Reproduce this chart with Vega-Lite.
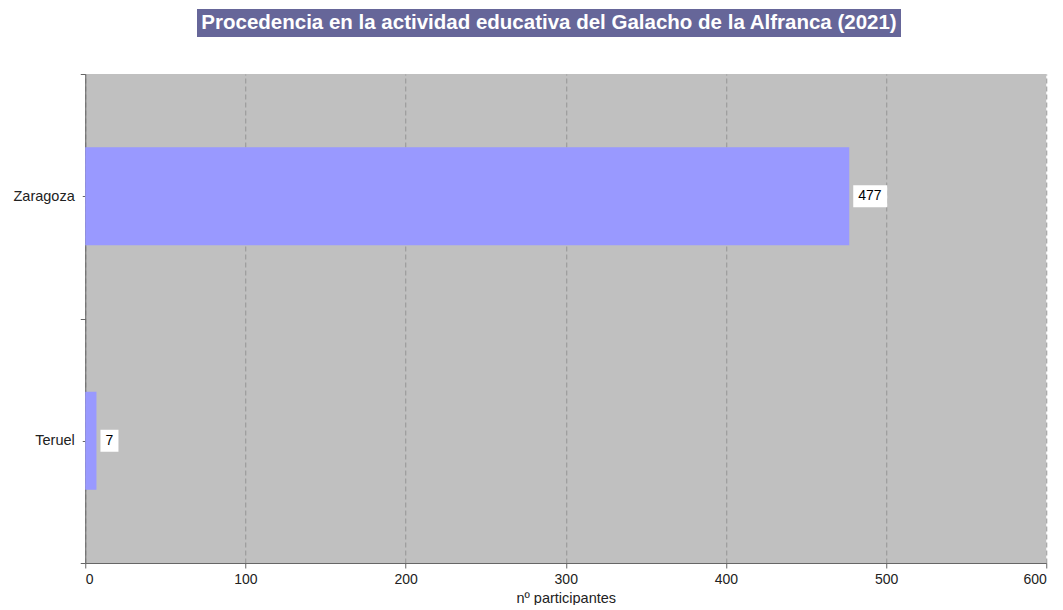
{
  "$schema": "https://vega.github.io/schema/vega-lite/v6.json",
  "padding": {"left": 12, "top": 9, "right": 4, "bottom": 0},
  "background": "white",
  "config": {"font": "Liberation Sans", "view": {"stroke": null}},
  "spacing": 29,
  "center": true,
  "vconcat": [
    {
      "width": 704,
      "height": 28,
      "view": {"fill": "#666699", "stroke": null},
      "data": {"values": [{"t": "Procedencia en la actividad educativa del Galacho de la Alfranca (2021)"}]},
      "mark": {"type": "text", "color": "white", "fontSize": 20.5, "fontWeight": "bold", "align": "center", "baseline": "middle"},
      "encoding": {
        "text": {"field": "t", "type": "nominal"},
        "y": {"datum": "a", "type": "nominal", "axis": {"orient": "right", "domain": false, "ticks": false, "labels": false, "grid": false, "title": null, "minExtent": 34, "maxExtent": 34}}
      }
    },
    {
      "width": 961,
      "height": 489,
      "view": {"fill": "#c0c0c0", "stroke": null},
      "data": {"values": [{"region": "Zaragoza", "n": 477}, {"region": "Teruel", "n": 7}]},
      "resolve": {"scale": {"y": "independent"}, "axis": {"y": "independent"}},
      "layer": [
        {
          "mark": {"type": "bar", "color": "#9999ff", "height": {"band": 0.4}},
          "encoding": {
            "y": {
              "field": "region", "type": "nominal", "sort": null,
              "scale": {"paddingInner": 0, "paddingOuter": 0},
              "axis": {"orient": "left", "title": null, "tickBand": "extent", "labelFontSize": 14.5, "labelColor": "#222", "domainColor": "#666", "tickColor": "#666", "tickSize": 5, "labelPadding": 6, "grid": false}
            },
            "x": {
              "field": "n", "type": "quantitative",
              "scale": {"domain": [0, 600], "nice": false},
              "axis": {"title": "nº participantes", "values": [0, 100, 200, 300, 400, 500, 600], "grid": true, "gridDash": [5, 3], "gridColor": "#959595", "domainColor": "#666", "tickColor": "#666", "tickSize": 5, "labelFontSize": 14, "labelColor": "#222", "titleFontSize": 14.5, "titleFontWeight": "normal", "titleColor": "#222", "titlePadding": 5, "labelPadding": 4}
            }
          }
        },
        {
          "mark": {"type": "bar", "color": "white", "height": 22, "xOffset": 4, "x2Offset": {"expr": "14 + 8*length(toString(datum.n))"}},
          "encoding": {
            "y": {"field": "region", "type": "nominal", "sort": null, "scale": {"paddingInner": 0, "paddingOuter": 0}, "axis": null},
            "x": {"field": "n", "type": "quantitative"},
            "x2": {"field": "n"}
          }
        },
        {
          "mark": {"type": "text", "align": "left", "baseline": "middle", "dx": 9, "fontSize": 14, "color": "black"},
          "encoding": {
            "y": {"field": "region", "type": "nominal", "sort": null, "scale": {"paddingInner": 0, "paddingOuter": 0}, "axis": {"orient": "left", "title": null, "labels": false, "domain": false, "grid": false, "tickSize": 3, "tickColor": "#666"}},
            "x": {"field": "n", "type": "quantitative"},
            "text": {"field": "n", "type": "quantitative"}
          }
        }
      ]
    }
  ]
}
